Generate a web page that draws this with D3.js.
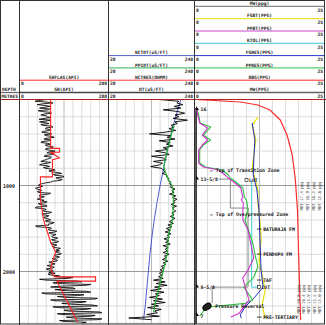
<!DOCTYPE html>
<html><head><meta charset="utf-8">
<script src="https://cdn.jsdelivr.net/npm/d3@7"></script>
<style>html,body{margin:0;padding:0;background:#fff;overflow:hidden}</style>
</head><body>
<svg id="c" width="326" height="325"></svg>
<script>
// ---------- DATA ----------
const depthTicks = [1000, 2000];
const grTop = 0, grStep = 10;
const grValues = [
 60,48,35,62,75,52,40,58,70,55,45,68,65,42,50,70,72,55,48,60,
 62,70,55,44,70,60,45,58,66,48,52,72,75,60,58,70,68,54,50,64,
 72,56,60,74,78,62,55,70,66,50,48,64,70,58,62,76,74,60,58,68,
 80,66,62,78,75,58,55,72,70,64,60,52,48,70,65,50,45,62,68,54,
 58,74,80,66,72,88,95,76,78,98,100,82,85,96,92,75,70,58,50,44,
 42,52,45,36,38,48,50,40,42,70,65,46,44,56,52,42,40,55,50,62,
 58,42,45,60,62,38,35,56,60,52,55,72,68,50,52,66,64,54,58,66,
 70,58,62,78,75,64,66,36,40,70,72,64,68,84,80,66,70,82,78,72,
 74,86,82,72,76,88,85,70,72,84,80,74,78,92,88,82,90,80,84,94,
 92,78,80,90,86,74,78,86,82,66,70,80,76,62,68,78,74,60,64,76,
 72,66,80,64,70,90,78,120,110,45,60,130,140,75,85,160,150,95,70,120,
 125,80,95,150,160,50,60,145,130,85,100,175,170,70,80,150,140,95,115,165,
 175,75,90,160,150,100,110,180,185,85,95,170,160,105,120,185,175,90,100,150,
 140];
const shflagDepth = [0,568,568,614,614,680,700,900,900,1160,1400,1657,1774,1948,2050,2062,2062,2112,2112,2580];
const shflagValues = [70,70,90,90,70,90,74,74,47,47,54,70,81,70,76,82,171,171,84,130];

const dtTop = 0, dtStep = 20;
const dtValues = [
 150,200,195,210,188,205,160,198,215,190,
 200,185,222,190,196,180,188,175,192,165,
 125,180,170,190,150,178,168,185,160,172,
 140,165,175,130,160,168,135,158,150,128,
 155,160,165,158,170,168,175,172,180,176,
 182,178,190,182,188,176,192,184,195,186,
 190,180,194,183,188,192,182,188,178,190,
 184,176,186,172,182,168,178,165,180,170,
 176,162,174,166,178,160,172,165,170,160,
 175,163,168,158,172,160,166,155,162,152,
 160,150,158,148,160,135,165,142,170,138,
 155,128,162,140,150,125,158,135,165,130,
 148,120,155,138,145,118,150,72,130];
const nctDepth = [0,200,400,600,800,1000,1200,1400,1600,1800,2000,2200,2400,2550];
const nctValues = [205,192,180,170,161,152,144,137,131,126,122,118,114,110];
const ppidtDepth = [300,349,581,779,849,930,1012,1163,1395,1593,1779,1977,2058,2209,2360,2477];
const ppidtValues = [188,184,171,161,166,173,184,186,184,173,171,161,156,148,140,135];

const obgDepth = [0,29,64,122,238,413,645,936,1285,1750,2565];
const obgValues = [0.3,8.8,12.2,14.5,16.5,17.8,18.8,19.4,19.8,20.0,20.4];
const fgbtDepth = [204,297,471,645,797,913,1052,1227,1401,1634,1866,2041,2216,2390,2541];
const fgbtValues = [12.2,11.1,11.8,11.4,11.1,11.6,12.2,12.2,12.6,12.8,12.4,13.0,13.6,13.0,13.6];
const fgresDepth = [273,471,703,878,1052,1285,1634,1983,2181,2297,2413,2506,2541];
const fgresValues = [11.1,11.6,11.4,11.3,12.0,12.4,12.6,12.8,13.2,11.6,9.7,8.8,9.0];
const pprDepth = [99,180,273,320,413,471,529,587,739,785,820,878,913,971,1029,1134,1169,1204,1285,1401,1518,1669,1843,1948,2064,2181,2332,2370,2400,2415,2470,2518];
const pprValues = [0.4,0.8,1.1,3.1,1.7,3.1,1.7,1.0,1.0,2.1,5.3,6.5,6.9,8.2,9.3,9.6,10.0,10.1,10.3,9.7,10.4,11.2,11.8,12.2,11.4,9.5,11.2,9.8,4.5,2.4,1.6,1.0];
const ppbtDepth = [99,180,273,331,413,471,529,587,739,785,820,878,913,971,1029,1134,1169,1204,1285,1401,1518,1669,1843,1983,2076,2216,2332,2484,2530];
const ppbtValues = [0.4,0.6,1.0,2.5,1.5,2.5,1.5,0.8,0.8,1.7,4.6,5.9,6.5,7.8,8.9,9.3,9.0,9.4,9.3,9.3,10.3,10.8,11.4,10.3,9.3,9.9,10.5,8.6,7.0];
const ktolDepth = [936,2181,2181];
const ktolValues = [11.0,11.0,12.4];
const mwDepth = [925,925,1262,1262,2181,2181,2367];
const mwValues = [4.6,6.9,6.9,10.3,10.3,3.4,3.4];

const casingDepth = [122,930,2186,2518];
const casingLabels = ['16','13-5/8','9-5/8','7'];
const formDepth = [1506,1797,2099,2530];
const formLabels = ['BATURAJA FM','PENDOPO FM','TAF','PRE-TERTIARY'];
const zoneDepth = [820,1332];
const zoneLabels = ['Top of Transition Zone','Top of Overpressured Zone'];
const lotDepth = [936,2181];
const lotValues = [10.0,12.4];
const reversalDepth = 2410, reversalValue = 2.4;
const sideTexts1 = ['MDT 17.4 ppg','MDT 16.9 ppg','MDT 16.2 ppg','MDT 15.8 ppg'];
const sideTexts2 = ['MDT 16.8 ppg','MDT 16.4 ppg','MDT 15.9 ppg','MDT 15.5 ppg','MDT 15.0 ppg'];

const t1Curves = [['SHFLAG(API)','#ff2a2a'],['GR(API)','#444']];
const t2Curves = [['NCTDT(uS/FT)','#5060d0'],['PPIDT(uS/FT)','#30b050'],['NCTRES(OHMM)','#ff3a3a'],['DT(uS/FT)','#444']];
const t3Curves = [['MW(ppg)','#888'],['FGBT(PPG)','#e6e000'],['PPBT(PPG)','#cc44cc'],['KTOL(PPG)','#40c8d0'],['FGRES(PPG)','#2838c8'],['PPRES(PPG)','#30c040'],['OBG(PPG)','#ff2a2a'],['MW(PPG)','#666']];
const t1Scale = ['0','200'], t2Scale = ['20','240'], t3Scale = ['0','25'];

// ---------- DRAW ----------
const svg = d3.select('#c');
const FONT = "'DejaVu Sans Mono', monospace";
const y = d3.scaleLinear().domain([0, 2610]).range([99.5, 324]);
const x1 = d3.scaleLinear().domain([0, 200]).range([19.5, 108.5]);
const x2 = d3.scaleLinear().domain([20, 240]).range([108.5, 194.5]);
const x3 = d3.scaleLinear().domain([0, 25]).range([194.5, 324.5]);
const yTop = 99.5, yBot = 324;

svg.append('rect').attr('width',326).attr('height',325).attr('fill','#fff');

const defs = svg.append('defs');
[['c1',x1],['c2',x2],['c3',x3]].forEach(([id,s])=>{
  defs.append('clipPath').attr('id',id).append('rect')
    .attr('x',s.range()[0]).attr('y',yTop).attr('width',s.range()[1]-s.range()[0]).attr('height',yBot-yTop);
});

const grid = svg.append('g');
[x1,x2,x3].forEach(s=>{
  const [a,b] = s.range();
  for(let i=1;i<10;i++){
    const xx = a + (b-a)*i/10;
    grid.append('line').attr('x1',xx).attr('x2',xx).attr('y1',yTop).attr('y2',yBot)
      .attr('stroke', i===5 ? '#a8a8a8' : '#d4d4d4').attr('stroke-width',0.8);
  }
  d3.range(200, 2601, 200).forEach(dd=>{
    grid.append('line').attr('x1',a).attr('x2',b).attr('y1',y(dd)).attr('y2',y(dd))
      .attr('stroke', dd%1000===0 ? '#999' : '#d4d4d4').attr('stroke-width', dd%1000===0?1:0.8);
  });
});

svg.selectAll('.dl').data(depthTicks).enter().append('text')
  .attr('x',3).attr('y',d=>y(d)+2).text(d=>d)
  .attr('font-family',FONT).attr('font-size',5).attr('font-weight','bold').attr('fill','#222');

const hdr = svg.append('g');
function header(scale, list, sc){
  const [a,b] = scale.range();
  const n = list.length;
  list.forEach(([lab,col],i)=>{
    const k = n-1-i;
    const ly = 92.5 - 12.3*k;
    hdr.append('line').attr('x1',a).attr('x2',b).attr('y1',ly).attr('y2',ly)
      .attr('stroke',col).attr('stroke-width', k===0||lab==='MW(ppg)'?1.3:1);
    hdr.append('text').attr('x',(a+b)/2).attr('y',ly-1.4).attr('text-anchor','middle').text(lab)
      .attr('font-family',FONT).attr('font-size',4.6).attr('font-weight','bold').attr('fill','#222');
    hdr.append('text').attr('x',a+1.5).attr('y',ly+5.2).text(sc[0])
      .attr('font-family',FONT).attr('font-size',4.6).attr('font-weight','bold').attr('fill','#222');
    hdr.append('text').attr('x',b-1.5).attr('y',ly+5.2).attr('text-anchor','end').text(sc[1])
      .attr('font-family',FONT).attr('font-size',4.6).attr('font-weight','bold').attr('fill','#222');
  });
}
header(x1, t1Curves, t1Scale);
header(x2, t2Curves, t2Scale);
header(x3, t3Curves, t3Scale);
hdr.append('text').attr('x',2).attr('y',91).text('DEPTH').attr('font-family',FONT).attr('font-size',4.6).attr('font-weight','bold').attr('fill','#222');
hdr.append('line').attr('x1',0).attr('x2',19.5).attr('y1',92.5).attr('y2',92.5).attr('stroke','#666').attr('stroke-width',1.2);
hdr.append('text').attr('x',1.5).attr('y',97.7).text('METRES').attr('font-family',FONT).attr('font-size',4.6).attr('font-weight','bold').attr('fill','#222');

function draw(clip, xs, depths, vals, color, w){
  const pts = depths.map((d,i)=>[d, vals[i]]);
  svg.append('path').attr('clip-path',`url(#${clip})`)
    .attr('d', d3.line().x(p=>xs(p[1])).y(p=>y(p[0]))(pts))
    .attr('fill','none').attr('stroke',color).attr('stroke-width',w).attr('stroke-linejoin','round');
}
const grDepth = grValues.map((v,i)=>grTop+i*grStep);
const dtDepth = dtValues.map((v,i)=>dtTop+i*dtStep);
draw('c1', x1, grDepth, grValues, '#000', 0.85);
draw('c1', x1, shflagDepth, shflagValues, '#ff2020', 1.1);
draw('c2', x2, nctDepth, nctValues, '#3a48c8', 0.9);
draw('c2', x2, dtDepth, dtValues, '#000', 0.9);
draw('c2', x2, ppidtDepth, ppidtValues, '#22b030', 1.1);

svg.append('line').attr('x1',x3(0.3)).attr('x2',x3(0.3)).attr('y1',y(100)).attr('y2',yBot).attr('stroke','#000').attr('stroke-width',1.4);
draw('c3', x3, mwDepth, mwValues, '#888', 1);
draw('c3', x3, ktolDepth, ktolValues, '#40c8d0', 1);
draw('c3', x3, obgDepth, obgValues, '#ff2a2a', 1.2);
draw('c3', x3, fgbtDepth, fgbtValues, '#e6e000', 1.2);
draw('c3', x3, fgresDepth, fgresValues, '#2030c0', 1);
draw('c3', x3, pprDepth, pprValues, '#30c040', 1.1);
draw('c3', x3, ppbtDepth, ppbtValues, '#cc33cc', 1.1);

const ann = svg.append('g').attr('font-family',FONT).attr('font-weight','bold').attr('font-size',4.8).attr('fill','#111');
casingDepth.forEach((d,i)=>{
  const xx = x3(0.3), yy = y(d);
  ann.append('path').attr('d',`M${xx},${yy} L${xx},${yy-4} L${xx+3},${yy} Z`).attr('fill','#000');
  ann.append('text').attr('x',xx+4.5).attr('y',yy+1.5).text(casingLabels[i]);
});
formDepth.forEach((d,i)=>{
  ann.append('line').attr('x1',x3(12.0)).attr('x2',x3(12.9)).attr('y1',y(d)).attr('y2',y(d)).attr('stroke','#111').attr('stroke-width',0.8);
  ann.append('text').attr('x',x3(13.2)).attr('y',y(d)+1.6).text(formLabels[i]);
});
zoneDepth.forEach((d,i)=>{
  ann.append('text').attr('x',x3(3.0)).attr('y',y(d)+1.6).text('\u21E6 '+zoneLabels[i]);
});
lotDepth.forEach((d,i)=>{
  ann.append('rect').attr('x',x3(lotValues[i])-1.5).attr('y',y(d)-1.5).attr('width',3).attr('height',3)
    .attr('fill','#fff').attr('stroke','#111').attr('stroke-width',0.6);
  ann.append('text').attr('x',x3(lotValues[i])+2.5).attr('y',y(d)+1.6).text('LOT');
});
ann.append('ellipse').attr('cx',x3(reversalValue)).attr('cy',y(reversalDepth)).attr('rx',4.5).attr('ry',2.8)
  .attr('transform',`rotate(-35 ${x3(reversalValue)} ${y(reversalDepth)})`).attr('fill','#222').attr('stroke','#000');
ann.append('text').attr('x',x3(4.0)).attr('y',y(reversalDepth)+1.6).text('Pressure Reversal');

sideTexts1.forEach((t,i)=>{
  const xx = x3(20.9+i*1.15), yy = y(1122);
  ann.append('text').attr('transform',`translate(${xx},${yy}) rotate(-90)`).attr('text-anchor','middle')
    .attr('font-size',4).attr('font-weight','normal').attr('fill','#444').text(t);
});
sideTexts2.forEach((t,i)=>{
  const xx = x3(20.3+i*1.0), yy = y(2320);
  ann.append('text').attr('transform',`translate(${xx},${yy}) rotate(-90)`).attr('text-anchor','middle')
    .attr('font-size',4).attr('font-weight','normal').attr('fill','#444').text(t);
});

const fr = svg.append('g');
fr.append('line').attr('x1',0).attr('x2',326).attr('y1',yTop).attr('y2',yTop).attr('stroke','#b02020').attr('stroke-width',1.2);
[19.5,108.5,194.5].forEach(xx=>fr.append('line').attr('x1',xx).attr('x2',xx).attr('y1',0).attr('y2',325).attr('stroke','#333').attr('stroke-width',1));
fr.append('rect').attr('x',0.5).attr('y',0.5).attr('width',324).attr('height',323.5).attr('fill','none').attr('stroke','#333').attr('stroke-width',1);
</script>
</body></html>
